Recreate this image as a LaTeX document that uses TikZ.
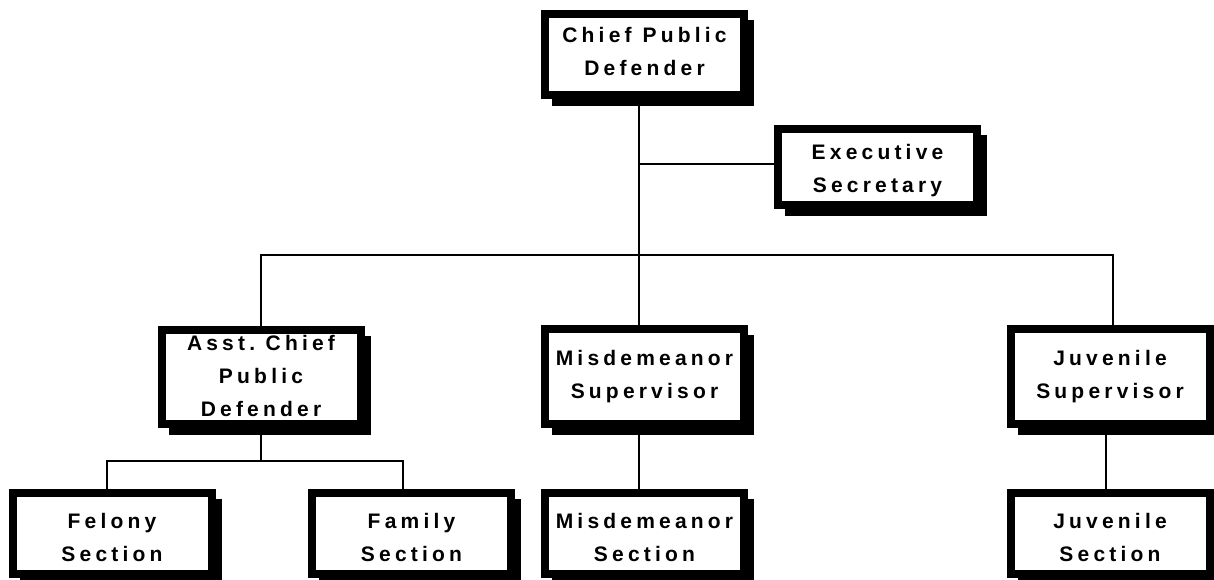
\documentclass[tikz,border=0pt]{standalone}
\usepackage{fontspec}
\newfontfamily\boxfont[LetterSpace=20]{Liberation Sans Bold}
\usetikzlibrary{calc,backgrounds}
\newcommand\boxshadow[1]{\fill[black] ($(#1.north west)+(11,10)$) rectangle ($(#1.south east)+(6,7)$);}
\newcommand\dn{\rule{0pt}{23pt}}
\begin{document}
\begin{tikzpicture}[x=1pt,y=-1pt,
  orgbox/.style={draw=black, line width=8pt, fill=white, rectangle, inner sep=0pt,
    text width=199pt, align=center, minimum height=#1,
    font=\boxfont\fontsize{21}{33}\selectfont},
  orgbox/.default=81pt,
  link/.style={line width=1.6pt, line cap=rect}]
\begin{scope}[on background layer]
  \fill[white] (0,0) rectangle (1214,580);
\end{scope}
\useasboundingbox (0,0) rectangle (1214,580);
\clip (0,0) rectangle (1214,580);

\node[orgbox=81pt] (chief) at (644.5,54.5) {Chief\hspace{11pt}Public\\Defender\rule[-6pt]{0pt}{6pt}};
\node[orgbox=76pt] (exec) at (877.5,167) {\dn Executive\\Secretary};
\node[orgbox=94pt] (asst) at (261,377) {Asst. Chief\\Public\\Defender\rule[-3pt]{0pt}{3pt}};
\node[orgbox=95pt] (misdsup) at (644.5,376.5) {Misdemeanor\\Supervisor};
\node[orgbox=95pt] (juvsup) at (1110,376.5) {Juvenile\\Supervisor};
\node[orgbox=81pt] (felony) at (112,533.5) {\dn Felony\\Section};
\node[orgbox=81pt] (family) at (411.5,533.5) {\dn Family\\Section};
\node[orgbox=81pt] (misdsec) at (644.5,533.5) {\dn Misdemeanor\\Section};
\node[orgbox=81pt] (juvsec) at (1110,533.5) {\dn Juvenile\\Section};

\begin{scope}[on background layer]
  \foreach \n in {chief,exec,asst,misdsup,juvsup,felony,family,misdsec,juvsec}{\boxshadow{\n}}
\end{scope}

\coordinate (jexec) at (639,164);
\coordinate (jjuv) at (1113,255);
\coordinate (jasst) at (261,461);
\coordinate (jfel) at (107,461);
\coordinate (jfam) at (403,461);
\coordinate (jjs) at (1106,460);

\draw[link] (chief.south -| jexec) -- (misdsup.north -| jexec);
\draw[link] (jexec) -- (jexec -| exec.west);
\draw[link] (asst.north) |- (jjuv) -- (jjuv |- juvsup.north);
\draw[link] (asst.south) -- (jasst);
\draw[link] (jfel |- felony.north) -- (jfel) -- (jfam) -- (jfam |- family.north);
\draw[link] (misdsup.south -| jexec) -- (misdsec.north -| jexec);
\draw[link] (juvsup.south -| jjs) -- (juvsec.north -| jjs);
\end{tikzpicture}
\end{document}
